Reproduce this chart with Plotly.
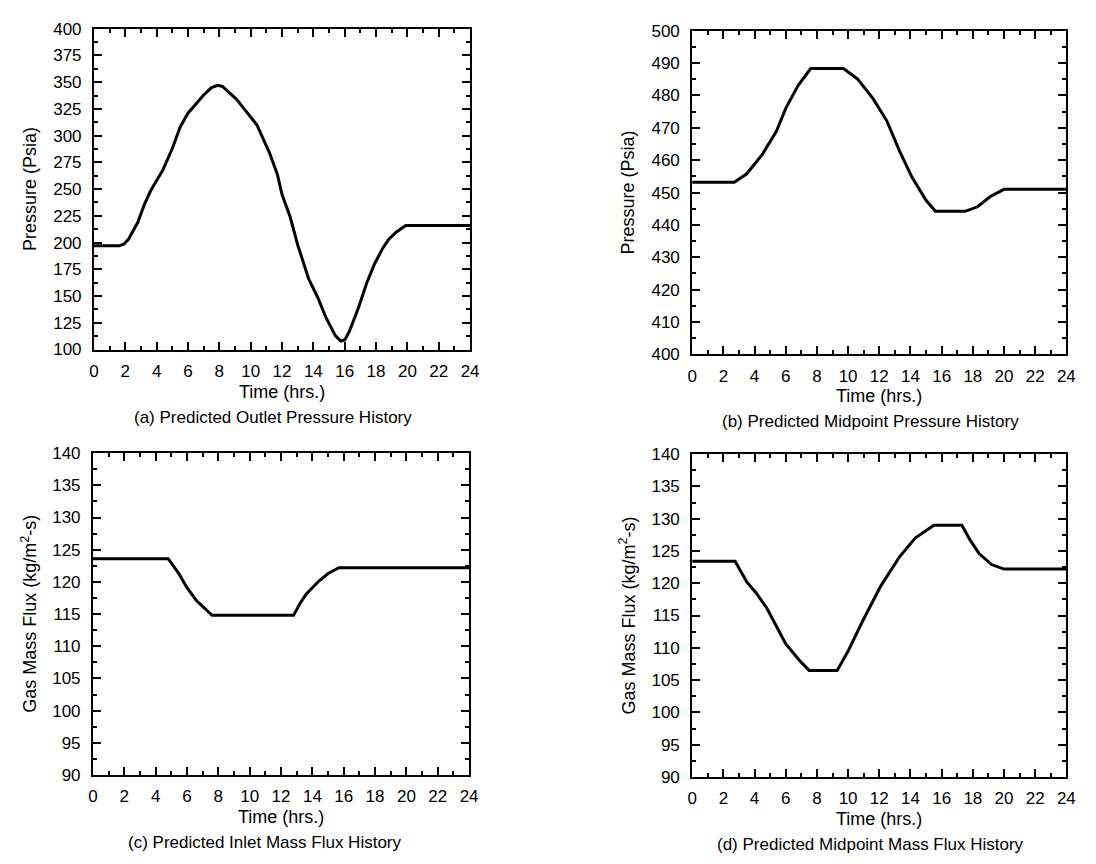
import plotly.graph_objects as go

# ---------------- data ----------------
hours_a = [0, 1.6, 1.9, 2.2, 2.5, 2.8, 3.2, 3.6, 4.0, 4.4, 5.0, 5.5, 6.0, 6.5, 7.0, 7.5, 7.9, 8.2, 8.6, 9.1,
           9.7, 10.4, 11.2, 11.7, 12.0, 12.5, 13.0, 13.7, 14.3, 14.8, 15.4, 15.75, 16.0, 16.3, 16.9, 17.4,
           17.9, 18.4, 18.8, 19.3, 19.9, 24]
outlet_pressure = [197, 197, 198.5, 203, 211, 219, 235, 248, 258, 268, 288, 308, 321, 330, 338, 345, 347, 346,
                   341, 334, 323, 310, 284, 264, 245, 225, 198, 166, 148, 130, 113, 108, 109, 117, 140, 162,
                   180, 194, 203, 210, 216, 216]

hours_b = [0, 2.7, 3.5, 4.5, 5.4, 6.0, 6.8, 7.6, 9.7, 10.6, 11.6, 12.5, 13.3, 14.1, 15.0, 15.6, 17.5, 18.3,
           19.1, 20.0, 24]
midpoint_pressure = [453.2, 453.2, 455.8, 461.8, 468.9, 476.0, 483.1, 488.3, 488.3, 485.1, 479.0, 472.0, 462.8,
                     454.7, 447.6, 444.2, 444.2, 445.6, 448.7, 451.0, 451.0]

hours_c = [0, 4.8, 5.5, 6.0, 6.6, 7.6, 12.8, 13.2, 13.6, 14.4, 15.0, 15.7, 24]
inlet_flux = [123.6, 123.6, 121.2, 119.1, 117.1, 114.8, 114.8, 116.6, 118.1, 120.1, 121.3, 122.2, 122.2]

hours_d = [0, 2.75, 3.5, 4.1, 4.8, 6.0, 6.9, 7.5, 9.3, 10.0, 10.9, 12.1, 13.3, 14.3, 15.5, 17.3, 17.8, 18.4,
           19.2, 20.0, 24]
midpoint_flux = [123.4, 123.4, 120.2, 118.5, 116.1, 110.6, 108.0, 106.5, 106.5, 109.5, 114.0, 119.6, 124.1,
                 127.0, 129.0, 129.0, 126.8, 124.6, 122.9, 122.2, 122.2]

x_ticks = list(range(0, 25, 2))
y_ticks_a = list(range(100, 401, 25))
y_ticks_b = list(range(400, 501, 10))
y_ticks_cd = list(range(90, 141, 5))

x_title = "Time (hrs.)"
y_title_p = "Pressure (Psia)"
y_title_f = "Gas Mass Flux (kg/m<sup>2</sup>-s)"
captions = ["(a) Predicted Outlet Pressure History",
            "(b) Predicted Midpoint Pressure History",
            "(c) Predicted Inlet Mass Flux History",
            "(d) Predicted Midpoint Mass Flux History"]

# ---------------- layout geometry (pixels) ----------------
W, H = 1096, 864
boxes = [  # left, right, top, bottom
    (82, 463, 12, 340),
    (688, 1067, 14, 345),
    (81, 462, 446, 775),
    (688, 1067, 447, 777),
]
caption_shift = [-9, -9, -16, -9]

FONT = "Liberation Sans, Arial, Helvetica, sans-serif"
fig = go.Figure()

series = [(hours_a, outlet_pressure), (hours_b, midpoint_pressure),
          (hours_c, inlet_flux), (hours_d, midpoint_flux)]
yinfo = [(100, 400, y_ticks_a, 12.5, y_title_p),
         (400, 500, y_ticks_b, 5, y_title_p),
         (90, 140, y_ticks_cd, 2.5, y_title_f),
         (90, 140, y_ticks_cd, 2.5, y_title_f)]

layout = dict(
    width=W, height=H, margin=dict(l=0, r=0, t=0, b=0),
    paper_bgcolor="white", plot_bgcolor="white", showlegend=False,
    font=dict(family=FONT, color="black", size=17),
)
annotations = []

for i, ((xs, ys), (ymin, ymax, yt, yminor, ytitle), (l, r, t, b)) in enumerate(zip(series, yinfo, boxes)):
    n = "" if i == 0 else str(i + 1)
    fig.add_trace(go.Scatter(x=xs, y=ys, mode="lines", line=dict(color="black", width=3),
                             xaxis="x" + n, yaxis="y" + n, hoverinfo="skip"))
    common = dict(showline=True, linecolor="black", linewidth=2, mirror="ticks", ticks="inside",
                  ticklen=8, tickwidth=1.8, tickcolor="black", showgrid=False, zeroline=False,
                  tickfont=dict(family=FONT, size=17, color="black"))
    layout["xaxis" + n] = dict(
        common, domain=[l / W, r / W], anchor="y" + n, range=[0, 24], tickvals=x_ticks,
        ticklabelstandoff=5,
        minor=dict(ticks="inside", ticklen=4, tickwidth=1.8, tickcolor="black", dtick=1, tick0=0, showgrid=False))
    layout["yaxis" + n] = dict(
        common, domain=[1 - b / H, 1 - t / H], anchor="x" + n, range=[ymin, ymax], tickvals=yt,
        ticklabelstandoff=7,
        minor=dict(ticks="inside", ticklen=4, tickwidth=1.8, tickcolor="black", dtick=yminor, tick0=ymin,
                   showgrid=False))
    cx = (l + r) / 2
    # x title
    annotations.append(dict(text=x_title, x=cx / W, y=1 - (b + 43) / H, xref="paper", yref="paper",
                            showarrow=False, font=dict(family=FONT, size=18, color="black"),
                            xanchor="center", yanchor="middle"))
    # caption
    annotations.append(dict(text=captions[i], x=(cx + caption_shift[i]) / W, y=1 - (b + 69) / H,
                            xref="paper", yref="paper",
                            showarrow=False, font=dict(family=FONT, size=17, color="black"),
                            xanchor="center", yanchor="middle"))
    # y title
    annotations.append(dict(text=ytitle, x=(l - 65) / W, y=1 - (t + b) / 2 / H, xref="paper", yref="paper",
                            showarrow=False, textangle=-90, font=dict(family=FONT, size=18, color="black"),
                            xanchor="center", yanchor="middle"))

layout["annotations"] = annotations
fig.update_layout(**layout)
fig.write_html("out.html")
